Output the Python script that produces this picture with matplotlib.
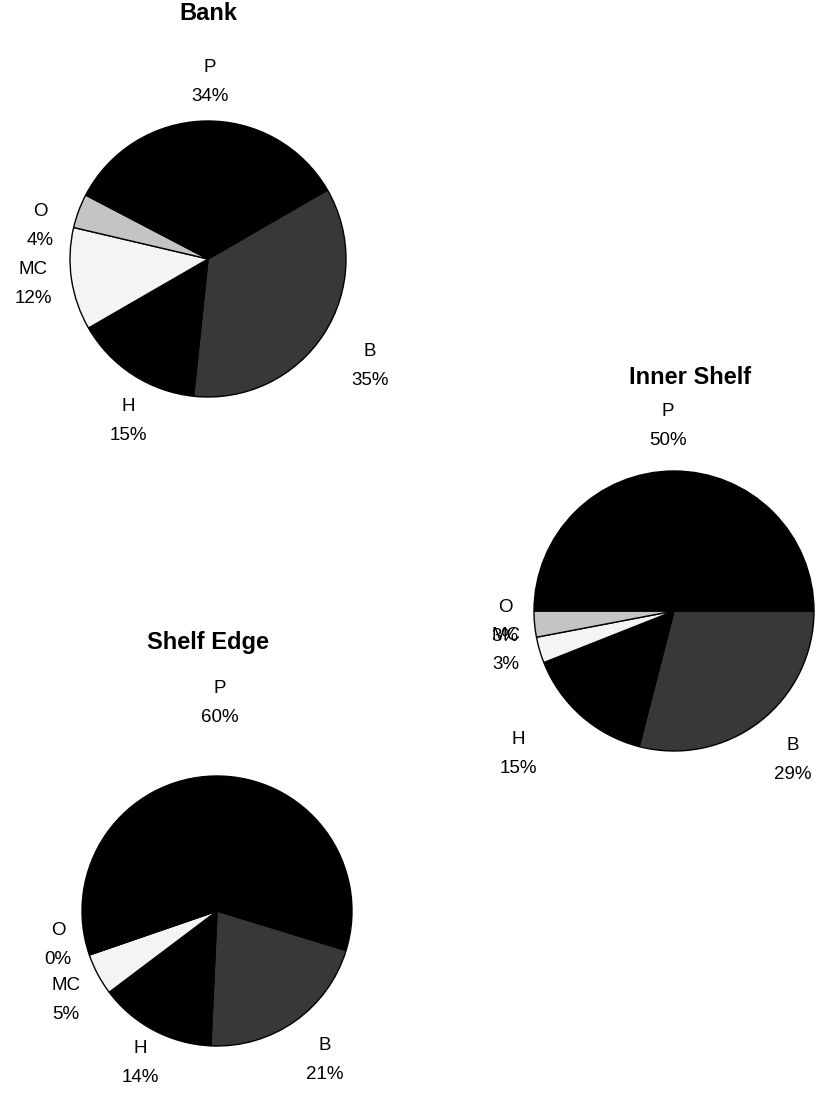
import matplotlib
matplotlib.use("Agg")
import matplotlib.pyplot as plt

# ---- data ----
categories = ["B", "H", "MC", "O", "P"]
bank = [35, 15, 12, 4, 34]
inner_shelf = [29, 15, 3, 3, 50]
shelf_edge = [21, 14, 5, 0, 60]
titles = ["Bank", "Inner Shelf", "Shelf Edge"]

# ---- style ----
colors = ["#383838", "#000000", "#f4f4f4", "#c4c4c4", "#000000"]
W, H = 821, 1093
plt.rcParams['font.family'] = ['Liberation Sans', 'DejaVu Sans']

fig = plt.figure(figsize=(W / 100, H / 100), dpi=100)
ax = fig.add_axes([0, 0, 1, 1])

def Y(y):
    return H - y

# layout: center (px), radius, start angle, title pos, label positions (px)
layout = [
    dict(c=(208, 259), r=138, start=30, title=(208, 13),
         labels={"P": (210, 82), "B": (370, 366), "H": (128, 421),
                 "MC": (33, 284), "O": (40, 226)}),
    dict(c=(674, 611), r=140, start=0, title=(690, 377),
         labels={"P": (668, 426), "B": (793, 760), "H": (518, 754),
                 "MC": (506, 650), "O": (505, 622)}),
    dict(c=(217, 911), r=135, start=-17, title=(208, 643),
         labels={"P": (220, 703), "B": (325, 1060), "H": (140, 1063),
                 "MC": (66, 1000), "O": (58, 945)}),
]

for vals, title, L in zip([bank, inner_shelf, shelf_edge], titles, layout):
    cx, cy = L['c']
    ax.pie(vals, colors=colors, startangle=L['start'], counterclock=False,
           center=(cx, Y(cy)), radius=L['r'], frame=True,
           wedgeprops=dict(edgecolor='black', linewidth=1.0))
    ax.text(L['title'][0], Y(L['title'][1]), title, ha='center', va='center',
            fontsize=17, fontweight='bold')
    for cat, v in zip(categories, vals):
        lx, ly = L['labels'][cat]
        ax.text(lx, Y(ly), f"{cat}\n{v}%", ha='center', va='center',
                fontsize=13.5, linespacing=1.92)

ax.set_xlim(0, W)
ax.set_ylim(0, H)
ax.set_aspect('equal')
ax.axis('off')
fig.savefig("out.png", dpi=100)
